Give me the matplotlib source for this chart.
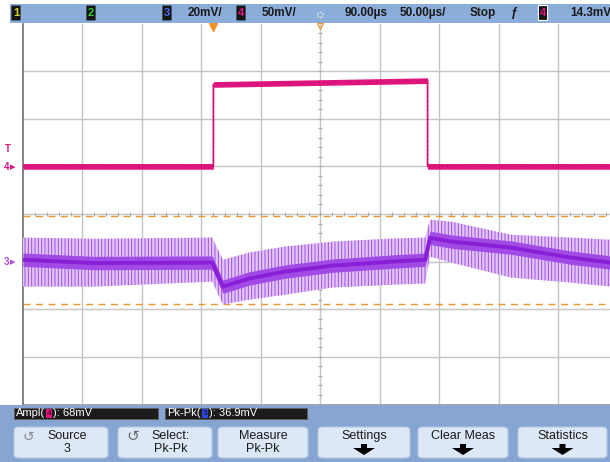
import numpy as np
import matplotlib as mpl
import matplotlib.pyplot as plt
from matplotlib.patches import Rectangle, FancyBboxPatch, Polygon

mpl.rcParams['font.family'] = ['Liberation Sans', 'DejaVu Sans']
mpl.rcParams['hatch.linewidth'] = 0.7

W, H = 610, 462

# time axis in us (50 us/div, delay 90 us), volts in mV
t_left, t_right = -160.0, 333.3
ch4_scale, ch4_pos = 50.0, 1.0     # mV/div, ground marker in div
ch3_scale, ch3_pos = 20.0, -1.0
trig_level = 14.3                  # mV on channel 4

# channel 4 (pink pulse)
t4 = [-160, 0, 0, 180, 180, 334]
v4 = [0, 0, 86, 90, 0, 0]

# channel 3 (purple noisy trace): centre and envelope
t3 = [-160, -100, -1, 8, 30, 60, 100, 150, 178, 182, 200, 250, 300, 334]
mid3 = [0.8, -0.6, -0.4, -10.5, -7.1, -4.2, -1.7, 0.0, 0.8, 10.0, 8.4, 5.9, 1.7, -0.4]
hi3 = [10.1, 9.6, 10.1, 0.8, 3.8, 6.3, 8.4, 9.7, 10.1, 17.6, 16.8, 11.3, 10.1, 9.2]
lo3 = [-10.5, -10.5, -8.4, -18.0, -16.0, -13.9, -10.9, -9.7, -9.2, 2.1, -0.4, -6.7, -8.8, -10.5]

# cursors (mV on channel 3)
cursors = [19.0, -17.9]

pink = '#e0157f'
purple = '#8a1fd8'
orange = '#f0952a'


def fx(px):
    return px / W


def fy(py):
    return 1 - py / H


def d4(v):
    return np.array(v) / ch4_scale + ch4_pos


def d3(v):
    return np.array(v) / ch3_scale + ch3_pos


fig = plt.figure(figsize=(6.1, 4.62), dpi=100)
fig.patch.set_facecolor('white')
renderer = fig.canvas.get_renderer()

ax = fig.add_axes([fx(23), fy(404.5), fx(610) - fx(23), fy(23.5) - fy(404.5)])
ax.set_xlim(t_left, t_right)
ax.set_ylim(-4, 4)
ax.set_xticks([])
ax.set_yticks([])
for s in ['top', 'right', 'bottom']:
    ax.spines[s].set_visible(False)
ax.spines['left'].set_color('#7a7a7a')
ax.spines['left'].set_linewidth(1.3)

# grid
for k in range(1, 10):
    ax.axvline(t_left + 50 * k, color='#c4c4c4', lw=1.0, zorder=0)
for k in range(-3, 4):
    ax.axhline(k, color='#c4c4c4', lw=1.0, zorder=0)
ax.axhline(-4, color='#9a9a9a', lw=1.2, zorder=0, clip_on=False)

# minor ticks on centre lines
ax.plot(np.full(39, 90.0), np.arange(-3.8, 4.0, 0.2), ls='none', marker='_',
        ms=3, color='#ababab', mew=0.8, zorder=1)
mx = np.arange(t_left + 10, t_right, 10)
ax.plot(mx, np.zeros(len(mx)), ls='none', marker='|', ms=3, color='#ababab', mew=0.8, zorder=1)

# cursors
for c in cursors:
    ax.axhline(d3(c), color=orange, lw=1.0, ls=(0, (5, 4)), zorder=2)

# channel 4
ax.fill_between(t4, d4(v4) - 0.06, d4(v4) + 0.06, color=pink, lw=0, zorder=3)
ax.plot(t4, d4(v4), color=pink, lw=1.3, zorder=3)
ax.plot(t4, d4(v4), color='#b00f60', lw=0.8, ls=(0, (1, 3)), zorder=3)

# channel 3
ax.fill_between(t3, d3(lo3), d3(hi3), facecolor='#e2c6f6', edgecolor='#a04fe4',
                hatch='|||||', lw=0, zorder=3)
ax.fill_between(t3, d3(mid3) - 0.14, d3(mid3) + 0.14, color='#a24ae6', lw=0, zorder=4)
ax.plot(t3, d3(mid3), color=purple, lw=2.8, zorder=5)

# trigger position markers
ax.plot([0], [3.93], marker='v', ms=6, color=orange, clip_on=False, zorder=6)
ax.plot([90], [3.95], marker='v', ms=4, mfc='none', mec=orange, mew=0.9,
        clip_on=False, zorder=6)

# left channel markers
fig.text(fx(4), fy(167), '4', color=pink, fontsize=7, fontweight='bold', va='center')
fig.text(fx(10), fy(167), '\u25b8', color=pink, fontsize=8, va='center')
fig.text(fx(4), fy(262), '3', color='#b04ae6', fontsize=7, fontweight='bold', va='center')
fig.text(fx(10), fy(262), '\u25b8', color='#b04ae6', fontsize=8, va='center')
fig.text(fx(8), fy(214 - (trig_level / ch4_scale + ch4_pos) * 47.6 - 4), 'T',
         color=pink, fontsize=7, fontweight='bold', va='center', ha='center')

# top status bar
fig.patches.append(Rectangle((fx(10), fy(23)), fx(600), 19 / H, transform=fig.transFigure,
                             facecolor='#8badd9', edgecolor='none', zorder=0))


def chbox(px, label, col, border='none'):
    fig.patches.append(FancyBboxPatch((fx(px), fy(20)), 8 / W, 14 / H,
                                      boxstyle='round,pad=0.001', transform=fig.transFigure,
                                      facecolor='#161616', edgecolor=border, lw=0.8))
    fig.text(fx(px + 4), fy(13), label, color=col, fontsize=8, fontweight='bold',
             ha='center', va='center')


chbox(12, '1', '#d8d820')
chbox(87, '2', '#30d030')
chbox(163, '3', '#4a70ff')
chbox(237, '4', pink)
chbox(539, '4', pink, border='white')

top_items = [(188, '20mV/'), (262, '50mV/'), (345, '90.00\u00b5s'), (400, '50.00\u00b5s/'),
             (470, 'Stop'), (570, '14.3mV')]
for px, s in top_items:
    fig.text(fx(px), fy(13), s, color='#1a1a1a', fontsize=8.5, fontweight='bold', va='center')
fig.text(fx(320), fy(13), '\u263c', color='#f0f0f0', fontsize=10, va='center', ha='center')
fig.text(fx(514), fy(13), '\u0192', color='#1a1a1a', fontsize=9, fontweight='bold',
         va='center', ha='center')

# bottom area
fig.patches.append(Rectangle((0, 0), 1, fy(405), transform=fig.transFigure,
                             facecolor='#86a5d2', edgecolor='none', zorder=0))
for x0, x1 in [(14, 158), (165, 307)]:
    fig.patches.append(Rectangle((fx(x0), fy(419)), (x1 - x0) / W, 11 / H,
                                 transform=fig.transFigure, facecolor='#1c1c1c',
                                 edgecolor='#606060', lw=0.6))


def meas(px, name, ch, chcol, value):
    t = fig.text(fx(px), fy(413.5), name + '(', color='white', fontsize=8, va='center')
    x = t.get_window_extent(renderer).x1 + 1
    fig.patches.append(Rectangle((x / W, fy(418)), 6 / W, 9 / H, transform=fig.transFigure,
                                 facecolor=chcol, edgecolor='none'))
    fig.text((x + 3) / W, fy(413.5), ch, color='#200018', fontsize=6, va='center', ha='center')
    fig.text((x + 7) / W, fy(413.5), '): ' + value, color='white', fontsize=8, va='center')


meas(16, 'Ampl', '4', pink, '68mV')
meas(167, 'Pk-Pk', '3', '#2a4de0', '36.9mV')

buttons = [(14, 108, 'Source', '3'), (118, 212, 'Select:', 'Pk-Pk'),
           (218, 308, 'Measure', 'Pk-Pk'), (318, 410, 'Settings', None),
           (418, 508, 'Clear Meas', None), (518, 607, 'Statistics', None)]
for x0, x1, top, bot in buttons:
    fig.patches.append(FancyBboxPatch((fx(x0), fy(458)), (x1 - x0) / W, 31 / H,
                                      boxstyle='round,pad=0,rounding_size=0.008',
                                      transform=fig.transFigure, facecolor='#dce8f6',
                                      edgecolor='#b4c8e4', lw=0.8))
    cx = (x0 + x1) / 2
    shift = 6 if top in ('Source', 'Select:') else 0
    fig.text(fx(cx + shift), fy(436), top, color='#1a1a1a', fontsize=9, ha='center', va='center')
    if bot is not None:
        fig.text(fx(cx + shift), fy(449), bot, color='#1a1a1a', fontsize=9, ha='center', va='center')
    else:
        pts = [(cx - 3, 444), (cx + 3, 444), (cx + 3, 448), (cx + 11, 448),
               (cx, 455), (cx - 11, 448), (cx - 3, 448)]
        fig.patches.append(Polygon([(fx(p), fy(q)) for p, q in pts], closed=True,
                                   transform=fig.transFigure, facecolor='black',
                                   edgecolor='none'))
fig.text(fx(28), fy(437), '\u21ba', color='#8a8a8a', fontsize=10, ha='center', va='center')
fig.text(fx(133), fy(437), '\u21ba', color='#6a6a6a', fontsize=11, ha='center', va='center')

fig.savefig('out.png', dpi=100)
